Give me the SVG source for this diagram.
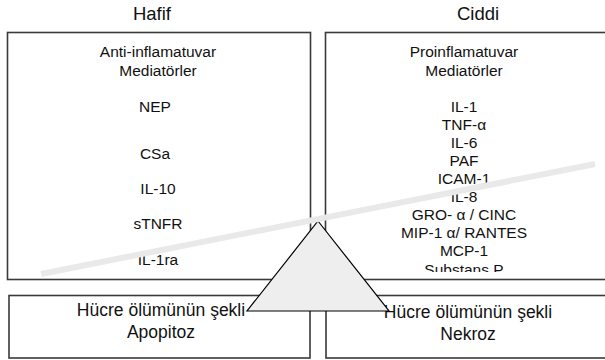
<svg xmlns="http://www.w3.org/2000/svg" width="605" height="360" viewBox="0 0 605 360">
<style>
.box{fill:#ffffff;stroke:#3a3a3a;stroke-width:1.6}
.t{font-family:"Liberation Sans",Arial,sans-serif;font-size:15.5px;fill:#111;text-anchor:middle}
.h{font-family:"Liberation Sans",Arial,sans-serif;font-size:18.5px;fill:#111;text-anchor:middle}
.b{font-family:"Liberation Sans",Arial,sans-serif;font-size:17.5px;fill:#111;text-anchor:middle}
</style>
<defs>
<clipPath id="clipR"><rect x="326" y="33" width="280" height="239"/></clipPath>
</defs>
<rect width="605" height="360" fill="#ffffff"/>
<g id="title-hafif"><text class="h" x="152" y="20">Hafif</text></g>
<g id="title-ciddi"><text class="h" x="478" y="20">Ciddi</text></g>
<g id="node-anti">
<rect class="box" x="7.5" y="32.5" width="303" height="247"/>
<text class="t" x="158" y="57">Anti-inflamatuvar</text>
<text class="t" x="158" y="76">Mediatörler</text>
<text class="t" x="155" y="112">NEP</text>
<text class="t" x="155" y="159">CSa</text>
<text class="t" x="158" y="194">IL-10</text>
<text class="t" x="158" y="229">sTNFR</text>
<text class="t" x="158" y="265">IL-1ra</text>
</g>
<g id="node-pro">
<rect class="box" x="325.5" y="32.5" width="282" height="247"/>
<g clip-path="url(#clipR)">
<text class="t" x="464" y="57">Proinflamatuvar</text>
<text class="t" x="464" y="76">Mediatörler</text>
<text class="t" x="464" y="111.5">IL-1</text>
<text class="t" x="464" y="129.5">TNF-α</text>
<text class="t" x="464" y="147.5">IL-6</text>
<text class="t" x="464" y="165.5">PAF</text>
<text class="t" x="464" y="183.5">ICAM-1</text>
<text class="t" x="464" y="201.5">IL-8</text>
<text class="t" x="464" y="219.5">GRO- α / CINC</text>
<text class="t" x="464" y="237.5">MIP-1 α/ RANTES</text>
<text class="t" x="464" y="255.5">MCP-1</text>
<text class="t" x="464" y="274.5">Substans P</text>
</g>
</g>
<g id="node-apopitoz">
<rect class="box" x="9" y="295.5" width="301" height="62.5"/>
<text class="b" x="161" y="316">Hücre ölümünün şekli</text>
<text class="b" x="161" y="338">Apopitoz</text>
</g>
<g id="node-nekroz">
<rect class="box" x="326" y="295.5" width="281" height="62.5"/>
<text class="b" x="468" y="318">Hücre ölümünün şekli</text>
<text class="b" x="468" y="340">Nekroz</text>
</g>
<g id="connectors"></g>
<g id="fulcrum">
<polygon points="318,221 389,311 247,311" fill="#eeeeee" stroke="#000000" stroke-width="1.2" stroke-linejoin="miter"/>
</g>
<g id="beam">
<line x1="41" y1="274" x2="595" y2="164" stroke="#e9e9e9" stroke-width="6"/>
</g>
</svg>
